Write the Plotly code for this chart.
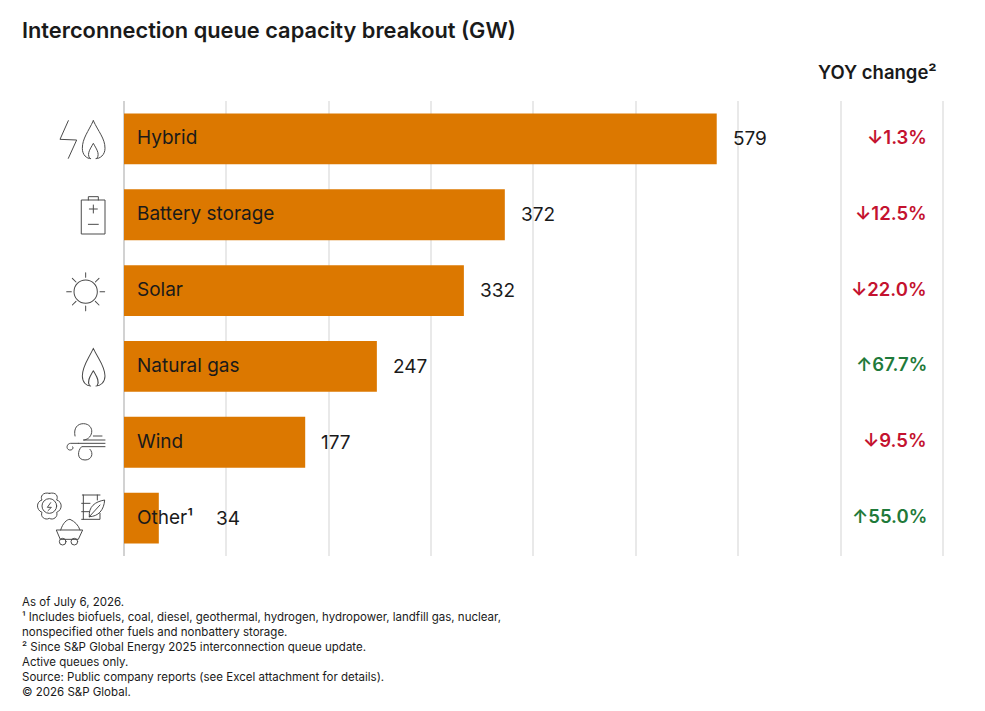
import base64
import plotly.graph_objects as go

categories = ["Hybrid", "Battery storage", "Solar", "Natural gas", "Wind", "Other¹"]
capacity_gw = [579, 372, 332, 247, 177, 34]
yoy_change = ["↓1.3%", "↓12.5%", "↓22.0%", "↑67.7%", "↓9.5%", "↑55.0%"]
title = "Interconnection queue capacity breakout (GW)"
yoy_title = "YOY change²"
footnotes = [
    "As of July 6, 2026.",
    "¹ Includes biofuels, coal, diesel, geothermal, hydrogen, hydropower, landfill gas, nuclear,",
    "nonspecified other fuels and nonbattery storage.",
    "² Since S&P Global Energy 2025 interconnection queue update.",
    "Active queues only.",
    "Source: Public company reports (see Excel attachment for details).",
    "© 2026 S&P Global.",
]

W, H = 985, 711
L, R, T, B = 124, 944, 101, 556  # plot box in page pixels, one unit wider than 800 so the last gridline draws
FONT = "Inter"
ORANGE = "#dc7800"
RED = "#c4122f"
GREEN = "#1f7a3a"
INK = "#1a1a1a"
ICON = "#4a4a4a"

# page pixels to paper coords
def px(x):
    return (x - L) / (R - L)

def py(y):
    return 1 - (y - T) / (B - T)

flame = ("M220 {a} C205 {b} 187 {c} 187 {d} C187 {e} 200 {f} 212 {f} "
         "M228 {f} C240 {f} 255 {e} 255 {d} C255 {c} 235 {b} 220 {a} "
         "M208 {g} C200 {h} 212 {i} 220 {j} C228 {i} 240 {h} 232 {g}")
flame1 = flame.format(a=92, b=125, c=145, d=175, e=195, f=206, g=203, h=190, i=175, j=160)
flame2 = flame.format(a=55, b=88, c=108, d=138, e=158, f=168, g=165, h=152, i=137, j=122)

# svg icons drawn in the 3x crop coords, (ox, oy) is the page offset of the crop
icons = [
    (20, 90, "110 85 155 130", f'<path d="M145 92 L120 148 L170 150 L145 205"/><path d="{flame1}"/>'),
    (20, 90, "175 310 90 130",
     '<path d="M205 330 V320 H235 V330 M185 330 H255 V432 H185 Z M208 357 H232 M220 345 V369 M205 403 H235"/>'),
    (20, 90, "135 540 125 130",
     '<circle cx="197" cy="605" r="35"/><path d="M197 548 V562 M197 648 V662 M140 605 H154 M240 605 H254 '
     'M157 565 L168 576 M226 634 L237 645 M157 645 L168 634 M226 576 L237 565"/>'),
    (20, 330, "180 50 85 125", f'<path d="{flame2}"/>'),
    (20, 330, "132 272 130 125",
     '<path d="M220 318 H246 M165 318 C160 295 172 281 190 281 C208 281 217 295 215 307 '
     'C213 322 200 330 190 330 H255 M175 340 H255 M175 340 H152 C140 340 137 357 148 360 C158 362 162 352 158 350 '
     'M255 350 H185 C172 362 170 390 195 390 C215 390 222 370 210 358"/>'),
    (20, 330, "45 482 215 168",
     '<circle cx="88" cy="528" r="22"/><path d="M88 490 C110 485 115 500 110 510 C128 515 128 540 110 547 '
     'C115 560 100 572 88 565 C75 572 60 560 66 547 C48 540 48 515 66 510 C60 500 68 485 88 490 Z '
     'M92 518 L82 532 H94 L84 542"/>'
     '<path d="M187 495 H240 M190 495 V568 M232 495 V510 M185 520 H210 M185 545 H208 M185 568 H240 V550 '
     'M208 560 C205 530 225 515 254 510 C252 540 235 560 208 560 Z M208 560 L240 525"/>'
     '<path d="M110 600 H188 L175 628 H122 Z M122 600 C128 580 140 568 150 568 C165 575 175 585 180 600"/>'
     '<circle cx="128" cy="635" r="10"/><circle cx="163" cy="635" r="10"/>'),
]

images = []
for ox, oy, box, body in icons:
    bx, by, bw, bh = [float(v) for v in box.split()]
    svg = (f'<svg xmlns="http://www.w3.org/2000/svg" viewBox="{box}" width="{bw}" height="{bh}">'
           f'<g fill="none" stroke="{ICON}" stroke-width="3" stroke-linecap="round" stroke-linejoin="round">{body}</g></svg>')
    images.append(dict(
        source="data:image/svg+xml;base64," + base64.b64encode(svg.encode()).decode(),
        xref="paper", yref="paper", x=px(ox + bx / 3), y=py(oy + by / 3),
        sizex=(bw / 3) / (R - L), sizey=(bh / 3) / (B - T),
        xanchor="left", yanchor="top", sizing="stretch", layer="above",
    ))

fig = go.Figure(go.Bar(
    x=capacity_gw, y=categories, orientation="h",
    marker=dict(color=ORANGE, line_width=0),
    hoverinfo="x+y",
))

# value labels sit after the bar, Other is pushed past its own name
label_shift = [14, 14, 14, 14, 14, 55]
annotations = []
for cat, val, yoy, shift in zip(categories, capacity_gw, yoy_change, label_shift):
    annotations.append(dict(x=0, y=cat, xref="x", yref="y", text=cat, showarrow=False, xanchor="left",
                            xshift=11, yshift=1, font=dict(size=19, color=INK)))
    annotations.append(dict(x=val, y=cat, xref="x", yref="y", text=str(val), showarrow=False, xanchor="left",
                            xshift=shift, font=dict(size=19, color=INK)))
    annotations.append(dict(x=px(927), y=cat, xref="paper", yref="y", text=yoy, showarrow=False,
                            xanchor="right", xshift=2, yshift=2,
                            font=dict(size=18.5, weight=600, color=RED if yoy.startswith("↓") else GREEN)))

annotations.append(dict(x=px(937), y=py(72), xref="paper", yref="paper", text=yoy_title,
                        showarrow=False, xanchor="right", yanchor="middle", xshift=2,
                        font=dict(size=18.5, weight=600, color=INK)))
annotations.append(dict(x=px(22), y=py(593), xref="paper", yref="paper", text="<br>".join(footnotes),
                        showarrow=False, xanchor="left", yanchor="top", align="left", xshift=-2,
                        font=dict(size=11.5, color=INK)))

fig.update_layout(
    width=W, height=H,
    margin=dict(l=L, r=W - R, t=T, b=H - B, pad=0),
    paper_bgcolor="white", plot_bgcolor="white",
    font=dict(family=FONT),
    showlegend=False,
    bargap=0.33,
    title=dict(text=title, x=22 / W, xanchor="left", xref="container", y=1 - 30 / H, yanchor="middle",
               font=dict(size=21.8, weight=600, color=INK, family=FONT)),
    xaxis=dict(range=[0, 801], dtick=100, showticklabels=False, ticks="", showgrid=True, gridcolor="#e9e9e9",
               gridwidth=1.5, zeroline=True, zerolinecolor="#d2d2d2", zerolinewidth=2, fixedrange=True),
    yaxis=dict(autorange="reversed", showticklabels=False, ticks="", showline=False, fixedrange=True),
    annotations=annotations,
    images=images,
)

fig.write_html("out.html", config=dict(displayModeBar=False),
               post_script="document.body.style.margin='0';")
